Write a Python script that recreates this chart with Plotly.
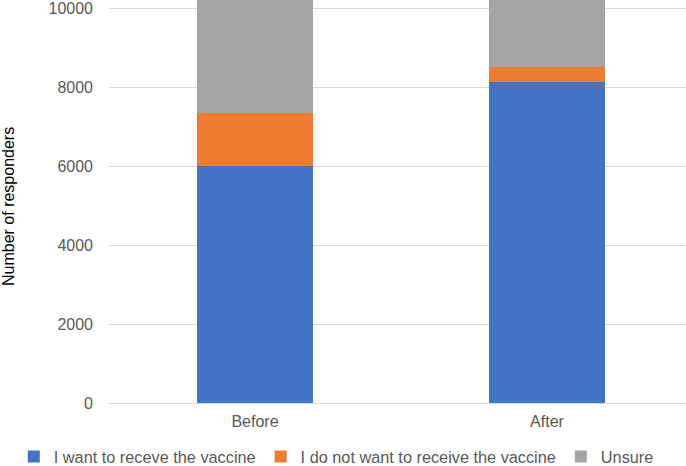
import plotly.graph_objects as go

categories = ["Before", "After"]
want = [6010, 8140]
not_want = [1330, 365]
unsure = [2900, 1735]
series_names = ["I want to receve the vaccine", "I do not want to receive the vaccine", "Unsure"]
colors = ["#4472C4", "#ED7D31", "#A5A5A5"]
y_ticks = [0, 2000, 4000, 6000, 8000, 10000]
y_tick_labels = ["0", "2000", "4000", "6000", "8000", "10000"]

FONT = "Liberation Sans, Arial, Helvetica, sans-serif"
TXT = "#595959"

fig = go.Figure()
for name, vals, col in zip(series_names, [want, not_want, unsure], colors):
    fig.add_trace(go.Bar(x=categories, y=vals, name=name, marker_color=col,
                         marker_line_width=0, width=0.4))

fig.update_layout(
    barmode="stack",
    width=686, height=466,
    margin=dict(l=109, r=0, t=0, b=63, autoexpand=False),
    paper_bgcolor="white", plot_bgcolor="white",
    font=dict(family=FONT, size=16, color=TXT),
    showlegend=True,
    legend=dict(orientation="h", x=-0.165, xanchor="left", y=-0.134, yanchor="middle",
                font=dict(family=FONT, size=16.3, color=TXT), traceorder="normal",
                itemwidth=30, bgcolor="rgba(0,0,0,0)"),
    xaxis=dict(range=[-0.5, 1.476], showgrid=False, showline=False, zeroline=False,
               ticks="", ticklabelstandoff=7,
               tickfont=dict(family=FONT, size=16, color=TXT)),
    yaxis=dict(range=[0, 10210], tickvals=y_ticks, ticktext=y_tick_labels,
               showgrid=True, gridcolor="#D9D9D9",
               gridwidth=1, zeroline=True, zerolinecolor="#D9D9D9", zerolinewidth=1,
               showline=False, ticks="", ticklabelstandoff=15, ticklabeloverflow="allow",
               tickfont=dict(family=FONT, size=16, color=TXT)),
    annotations=[dict(text="Number of responders", xref="paper", yref="paper",
                      x=(8 - 109) / 577, y=(403 - 207) / 403, xanchor="center", yanchor="middle",
                      textangle=-90, showarrow=False,
                      font=dict(family=FONT, size=16, color="#000000"))],
)

fig.write_html("out.html", config={"displayModeBar": False},
               post_script="document.body.style.margin='0';document.body.style.overflow='hidden';")
